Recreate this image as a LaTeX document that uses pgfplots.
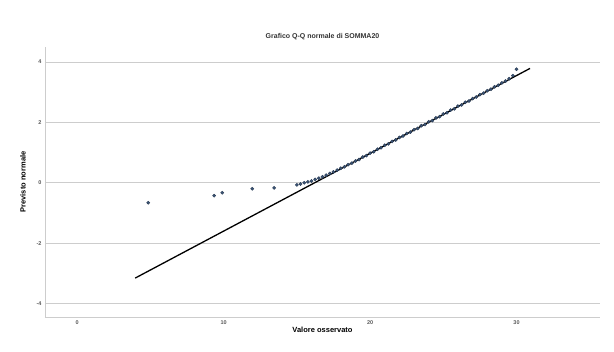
\documentclass[border=0pt]{standalone}
\usepackage{pgfplots}
\pgfplotsset{compat=1.18}
\usepackage{fontspec}
\setmainfont{Liberation Sans}
\definecolor{pt}{RGB}{60,85,120}
\definecolor{gr}{RGB}{205,205,205}
\begin{document}
\begin{tikzpicture}[x=1pt,y=1pt]
\useasboundingbox (0,0) rectangle (614,352);
\begin{axis}[
  at={(45pt,35pt)}, anchor=south west,
  width=555pt, height=270pt, scale only axis,
  xmin=-2.2, xmax=35.7, ymin=-4.45, ymax=4.5,
  axis x line=bottom, axis y line=left,
  axis line style={gr, -},
  xtick={0,10,20,30}, ytick={-4,-2,0,2,4},
  ymajorgrids, grid style={gr, line width=0.8pt},
  major tick length=0pt,
  tick label style={font=\fontsize{5.5}{6}\selectfont\bfseries, text=black!65},
  /pgf/number format/assume math mode=true,
  title={\fontsize{7}{8}\selectfont\bfseries Grafico Q-Q normale di SOMMA20},
  title style={at={(0.5,1)}, yshift=-2pt, anchor=south, text=black!80},
  xlabel={\fontsize{7.5}{8}\selectfont\bfseries Valore osservato},
  ylabel={\fontsize{7.5}{8}\selectfont\bfseries Previsto normale},
  xlabel style={yshift=4pt},
  ylabel style={yshift=4pt},
  clip=false,
]
\addplot[only marks, mark=*, mark size=1.6pt, mark options={fill=pt, draw=pt!70!black, line width=0.4pt}] coordinates {
(4.85,-0.66) (9.35,-0.43) (9.9,-0.33) (11.95,-0.2) (13.45,-0.17)
(15.00,-0.07) (15.25,-0.04) (15.50,0.00) (15.75,0.03) (16.00,0.06)
(16.25,0.11) (16.50,0.15) (16.75,0.20) (17.00,0.25) (17.25,0.31)
(17.50,0.36) (17.75,0.42) (18.00,0.48) (18.25,0.53) (18.50,0.60)
(18.75,0.65) (19.00,0.72) (19.25,0.77) (19.50,0.85) (19.75,0.90)
(20.00,0.98) (20.25,1.03) (20.50,1.11) (20.75,1.16) (21.00,1.24)
(21.25,1.29) (21.50,1.37) (21.75,1.42) (22.00,1.50) (22.25,1.55)
(22.50,1.63) (22.75,1.68) (23.00,1.76) (23.25,1.80) (23.50,1.89)
(23.75,1.93) (24.00,2.02) (24.25,2.06) (24.50,2.15) (24.75,2.19)
(25.00,2.28) (25.25,2.32) (25.50,2.41) (25.75,2.45) (26.00,2.54)
(26.25,2.58) (26.50,2.67) (26.75,2.71) (27.00,2.79) (27.25,2.84)
(27.50,2.92) (27.75,2.97) (28.00,3.05) (28.25,3.10) (28.50,3.18)
(28.75,3.23) (29.00,3.31) (29.25,3.37) (29.50,3.45) (29.75,3.55)
(30.00,3.76)
};
\addplot[black, line width=1.3pt, no marks] coordinates {(3.96,-3.16) (30.92,3.79)};
\end{axis}
\end{tikzpicture}
\end{document}
